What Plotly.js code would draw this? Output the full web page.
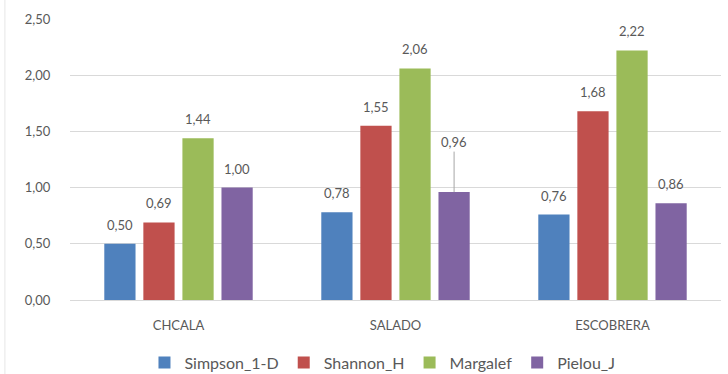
<!DOCTYPE html>
<html>
<head>
<meta charset="utf-8">
<script src="https://cdn.plot.ly/plotly-3.0.1.min.js"></script>
<style>html,body{margin:0;padding:0;background:#fff;}#chart{width:728px;height:374px;}</style>
</head>
<body>
<div id="chart"></div>
<script>
const categories = ["CHCALA", "SALADO", "ESCOBRERA"];
const seriesNames = ["Simpson_1-D", "Shannon_H", "Margalef", "Pielou_J"];
const simpson = [0.50, 0.78, 0.76];
const shannon = [0.69, 1.55, 1.68];
const margalef = [1.44, 2.06, 2.22];
const pielou = [1.00, 0.96, 0.86];
const colors = ["#4F81BD", "#C0504D", "#9BBB59", "#8064A2"];
const yTicks = [0, 0.5, 1, 1.5, 2, 2.5];

const seriesValues = [simpson, shannon, margalef, pielou];
const bargap = 0.28;
const slot = (1 - bargap) / seriesValues.length;
const fmt = v => v.toFixed(2).replace('.', ',');
const txtFont = {family: 'Lato, sans-serif', size: 13, color: '#595959'};

const traces = seriesValues.map((vals, j) => ({
  type: 'bar',
  name: seriesNames[j],
  x: categories,
  y: vals,
  marker: {color: colors[j]},
  hoverinfo: 'none'
}));

const annotations = [];
seriesValues.forEach((vals, j) => {
  vals.forEach((v, i) => {
    const xpos = i + (j - (seriesValues.length - 1) / 2) * slot;
    const moved = (j === 3 && i === 1);
    if (moved) {
      annotations.push({
        x: xpos, y: v, xref: 'x', yref: 'y',
        text: fmt(v), showarrow: true, arrowhead: 0, arrowwidth: 1,
        arrowcolor: '#A6A6A6', ax: 0, ay: -50, standoff: 0,
        font: txtFont
      });
    } else {
      annotations.push({
        x: xpos, y: v, xref: 'x', yref: 'y',
        text: fmt(v), showarrow: false, yanchor: 'middle', yshift: 19,
        font: txtFont
      });
    }
  });
});

const layout = {
  width: 728, height: 374,
  margin: {l: 70, r: 7, t: 19, b: 74, autoexpand: false},
  paper_bgcolor: '#ffffff', plot_bgcolor: '#ffffff',
  separators: ', ',
  font: txtFont,
  barmode: 'group',
  bargap: bargap,
  bargroupgap: 0.2,
  showlegend: true,
  legend: {
    orientation: 'h', x: 0.48, xanchor: 'center', y: -0.162, yanchor: 'top',
    font: {family: 'Lato, sans-serif', size: 16, color: '#595959'},
    itemwidth: 30, traceorder: 'normal'
  },
  xaxis: {
    type: 'category', showgrid: false, zeroline: false, showline: false,
    ticks: 'outside', ticklen: 13, tickcolor: 'rgba(0,0,0,0)',
    tickfont: txtFont,
    fixedrange: true
  },
  yaxis: {
    range: [0, 2.5], tickvals: yTicks, tickformat: '.2f',
    showgrid: true, gridcolor: '#D9D9D9', gridwidth: 1,
    zeroline: true, zerolinecolor: '#D9D9D9', zerolinewidth: 1,
    showline: false, ticks: 'outside', ticklen: 16, tickcolor: 'rgba(0,0,0,0)',
    tickfont: txtFont,
    fixedrange: true
  },
  annotations: annotations,
  shapes: [{
    type: 'line', xref: 'paper', yref: 'paper', x0: -0.1, x1: -0.1, y0: -0.27, y1: 1.07,
    line: {color: '#E6E6E6', width: 1}
  }]
};

Plotly.newPlot('chart', traces, layout, {displayModeBar: false, staticPlot: true});
</script>
</body>
</html>
